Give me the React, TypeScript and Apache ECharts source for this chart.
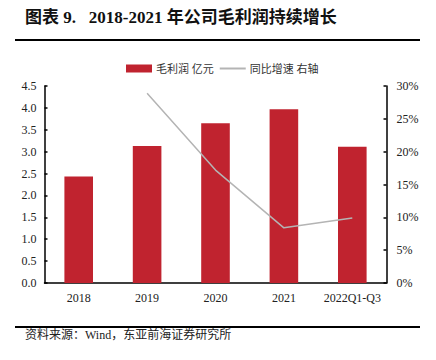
import React, { useEffect, useRef } from "react";
import * as echarts from "echarts";

const categories = ["2018", "2019", "2020", "2021", "2022Q1-Q3"];
const grossProfit = [2.43, 3.13, 3.65, 3.97, 3.11];
const yoyGrowth: (number | null)[] = [null, 28.9, 17.2, 8.4, 9.9];
const leftTicks = { min: 0, max: 4.5, interval: 0.5 };
const rightTicks = { min: 0, max: 30, interval: 5 };

const titleText = "图表 9.   2018-2021 年公司毛利润持续增长";
const sourceText = "资料来源：Wind，东亚前海证券研究所";
const barName = "毛利润 亿元";
const lineName = "同比增速 右轴";

const SERIF = "'Liberation Serif', 'Times New Roman', 'Noto Sans CJK SC', serif";

export default function App() {
  const ref = useRef<HTMLDivElement>(null);
  useEffect(() => {
    if (!ref.current) return;
    const chart = echarts.init(ref.current, undefined, { renderer: "svg" });
    chart.setOption({
      animation: false,
      backgroundColor: "#ffffff",
      textStyle: { fontFamily: SERIF },
      grid: { left: 44.5, right: 49.5, top: 86, bottom: 77, containLabel: false },
      legend: {
        top: 58,
        left: 121,
        itemWidth: 26,
        itemHeight: 8,
        itemGap: 5,
        textStyle: { fontSize: 11, color: "#333", fontFamily: SERIF, padding: [0, 0, 0, -1] },
        data: [
          { name: barName, icon: "rect" },
          { name: lineName, itemStyle: { opacity: 0 } },
        ],
      },
      xAxis: {
        type: "category",
        data: categories,
        axisLine: { lineStyle: { color: "#000", width: 1.5 } },
        axisTick: { show: false },
        axisLabel: { color: "#222", fontSize: 12, margin: 9, interval: 0, fontFamily: SERIF },
      },
      yAxis: [
        {
          type: "value",
          min: leftTicks.min,
          max: leftTicks.max,
          interval: leftTicks.interval,
          axisLine: { show: true, lineStyle: { color: "#000", width: 1.5 } },
          axisTick: { show: true, inside: true, length: 3, lineStyle: { color: "#000", width: 1.5 } },
          splitLine: { show: false },
          axisLabel: {
            color: "#222",
            fontSize: 12,
            margin: 8,
            fontFamily: SERIF,
            formatter: (v: number) => v.toFixed(1),
          },
        },
        {
          type: "value",
          min: rightTicks.min,
          max: rightTicks.max,
          interval: rightTicks.interval,
          position: "right",
          axisLine: { show: true, lineStyle: { color: "#000", width: 1.5 } },
          axisTick: { show: true, inside: true, length: 3, lineStyle: { color: "#000", width: 1.5 } },
          splitLine: { show: false },
          axisLabel: {
            color: "#222",
            fontSize: 12,
            margin: 10,
            fontFamily: SERIF,
            formatter: (v: number) => `${v}%`,
          },
        },
      ],
      series: [
        {
          name: barName,
          type: "bar",
          data: grossProfit,
          barWidth: 28.6,
          itemStyle: { color: "#c0232f" },
          yAxisIndex: 0,
        },
        {
          name: lineName,
          type: "line",
          data: yoyGrowth,
          yAxisIndex: 1,
          symbol: "none",
          lineStyle: { color: "#b4b4b4", width: 1.5 },
          itemStyle: { color: "#b4b4b4" },
        },
      ],
      graphic: [
        {
          type: "text",
          left: 25,
          top: 9,
          style: {
            text: titleText,
            fontSize: 17,
            fontWeight: "bold",
            fill: "#111",
            fontFamily: SERIF,
          },
        },
        {
          type: "line",
          shape: { x1: 15, y1: 40, x2: 420, y2: 40 },
          style: { stroke: "#000", lineWidth: 2 },
        },
        {
          type: "line",
          shape: { x1: 15, y1: 327, x2: 420, y2: 327 },
          style: { stroke: "#000", lineWidth: 2 },
        },
        {
          type: "text",
          left: 25,
          top: 329,
          style: {
            text: sourceText,
            fontSize: 12,
            fill: "#222",
            fontFamily: SERIF,
          },
        },
      ],
    });
    return () => chart.dispose();
  }, []);
  return (
    <div
      ref={ref}
      style={{ position: "fixed", left: 0, top: 0, width: 436, height: 360 }}
    />
  );
}
